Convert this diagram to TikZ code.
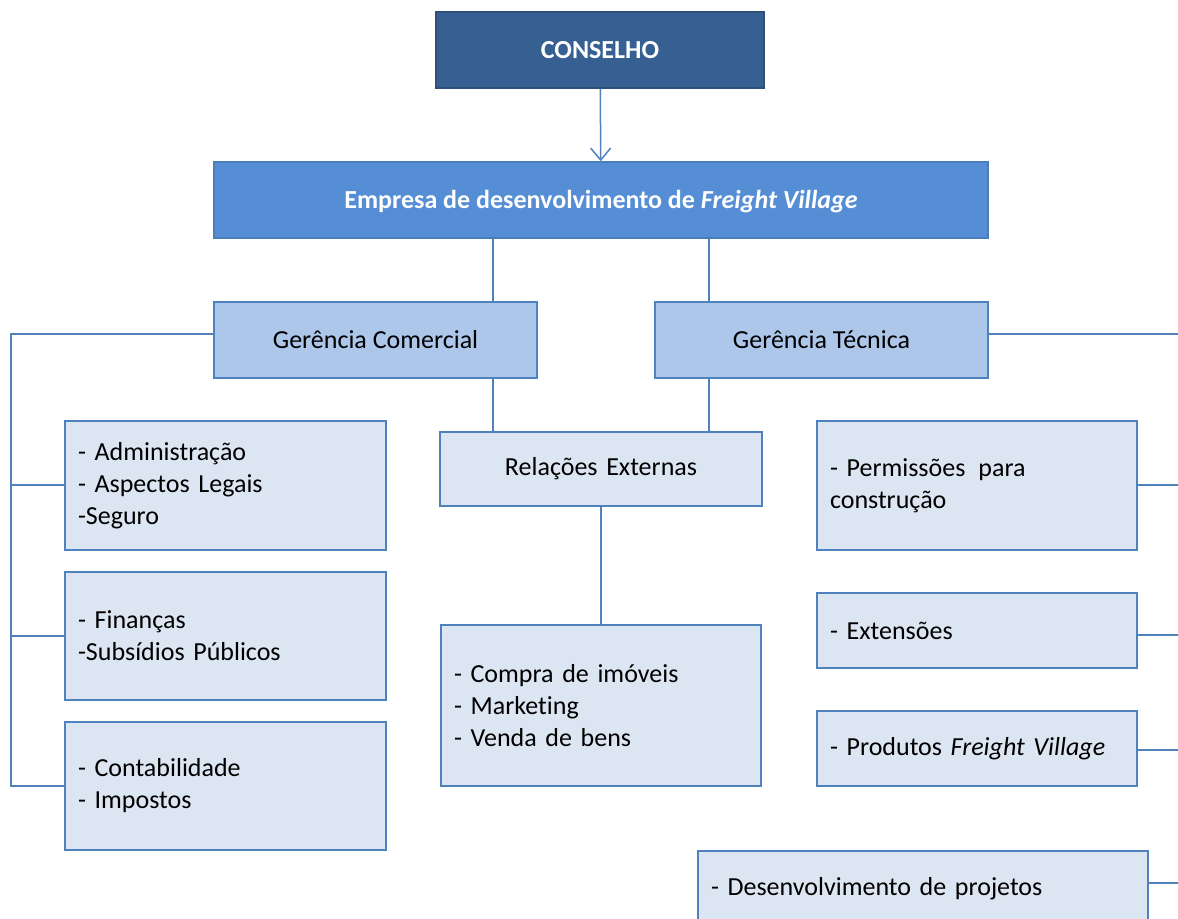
\documentclass[tikz,border=0pt]{standalone}
\usepackage{fontspec}
\setmainfont{Carlito}[Ligatures=NoCommon]
\usetikzlibrary{arrows.meta}
\definecolor{boardblue}{HTML}{376092}
\definecolor{boardedge}{HTML}{2E5079}
\definecolor{firmblue}{HTML}{558ED5}
\definecolor{firmedge}{HTML}{4A7EBB}
\definecolor{mgrblue}{HTML}{ADC7EB}
\definecolor{unitfill}{HTML}{DCE6F2}
\definecolor{linkblue}{HTML}{4F81BD}
\begin{document}
\begin{tikzpicture}[x=0.5pt,y=-0.5pt,line width=0.75pt,
    orgbox/.style={draw=linkblue,line width=0.75pt,inner sep=0pt,minimum height=38pt,
      font=\fontsize{13}{16}\selectfont},
    boardbox/.style={orgbox,fill=boardblue,draw=boardedge,text=white,
      font=\bfseries\fontsize{13}{16}\selectfont},
    firmbox/.style={orgbox,fill=firmblue,draw=firmedge,text=white,
      font=\bfseries\fontsize{13}{16}\selectfont},
    mgrbox/.style={orgbox,fill=mgrblue},
    unitbox/.style={orgbox,fill=unitfill,align=left,inner xsep=6.5pt,text width=147.5pt},
    link/.style={draw=linkblue,line width=0.75pt}]
  \useasboundingbox (0,0) rectangle (1178,919);
  \clip (0,0) rectangle (1178,919);

  % top levels
  \node[boardbox,minimum width=164pt] (conselho) at (600,50) {CONSELHO};
  \node[firmbox,minimum width=387pt,text height=9pt,text depth=0pt] (empresa) at (601,200)
    {Empresa de desenvolvimento de \textit{Freight Village}};
  \node[mgrbox,minimum width=161.5pt] (gc) at (375.5,340) {Gerência Comercial};
  \node[mgrbox,minimum width=166.5pt] (gt) at (821.5,340) {Gerência Técnica};
  \node[unitbox,align=center,text width=148pt,minimum height=37pt] (relext) at (601,469)
    {Relações Externas};

  % left column
  \node[unitbox,minimum height=64.5pt] (admin) at (225.5,485.5)
    {- Administração\\- Aspectos Legais\\-Seguro};
  \node[unitbox,minimum height=64pt] (financas) at (225.5,636)
    {- Finanças\\-Subsídios Públicos};
  \node[unitbox,minimum height=64pt] (contab) at (225.5,786)
    {- Contabilidade\\- Impostos};

  % middle column
  \node[unitbox,text width=147pt,minimum height=80.5pt] (compra) at (601,705.5)
    {- Compra de imóveis\\- Marketing\\- Venda de bens};

  % right column
  \node[unitbox,text width=147pt,minimum height=64.5pt] (permissoes) at (977,485.5)
    {- Permissões\, para\\construção};
  \node[unitbox,text width=147pt,minimum height=37.5pt] (extensoes) at (977,630.5)
    {- Extensões};
  \node[unitbox,text width=147pt,minimum height=37.5pt] (produtos) at (977,748.5)
    {- Produtos \textit{Freight Village}};
  \node[unitbox,text width=212pt,minimum height=37.5pt] (desenv) at (923,888.5)
    {- Desenvolvimento de projetos};

  % connectors
  \coordinate (lx) at (493,0);
  \coordinate (rx) at (709,0);
  \coordinate (lbus) at (11,0);
  \coordinate (rbus) at (1186,0);
  \draw[link,-{Straight Barb[length=6pt,width=10pt]}] (conselho) -- (empresa);
  \draw[link] (lx |- empresa.south) -- (lx |- gc.north);
  \draw[link] (rx |- empresa.south) -- (rx |- gt.north);
  \draw[link] (lx |- gc.south) -- (lx |- relext.north);
  \draw[link] (rx |- gt.south) -- (rx |- relext.north);
  \draw[link] (relext) -- (compra);
  \draw[link] ([yshift=3pt]gc.west) -| (lbus |- contab.west) -- (contab.west);
  \draw[link] ([yshift=0.25pt]admin.west) -- ([yshift=0.25pt]admin.west -| lbus);
  \draw[link] (financas.west) -- (lbus |- financas.west);
  \draw[link] ([yshift=3pt]gt.east) -- ([yshift=3pt]gt.east -| rbus);
  \draw[link] ([yshift=0.25pt]permissoes.east) -- ([yshift=0.25pt]permissoes.east -| rbus);
  \draw[link] ([yshift=-2.25pt]extensoes.east) -- ([yshift=-2.25pt]extensoes.east -| rbus);
  \draw[link] ([yshift=-0.75pt]produtos.east) -- ([yshift=-0.75pt]produtos.east -| rbus);
  \draw[link] ([yshift=2.75pt]desenv.east) -- ([yshift=2.75pt]desenv.east -| rbus);
\end{tikzpicture}
\end{document}
